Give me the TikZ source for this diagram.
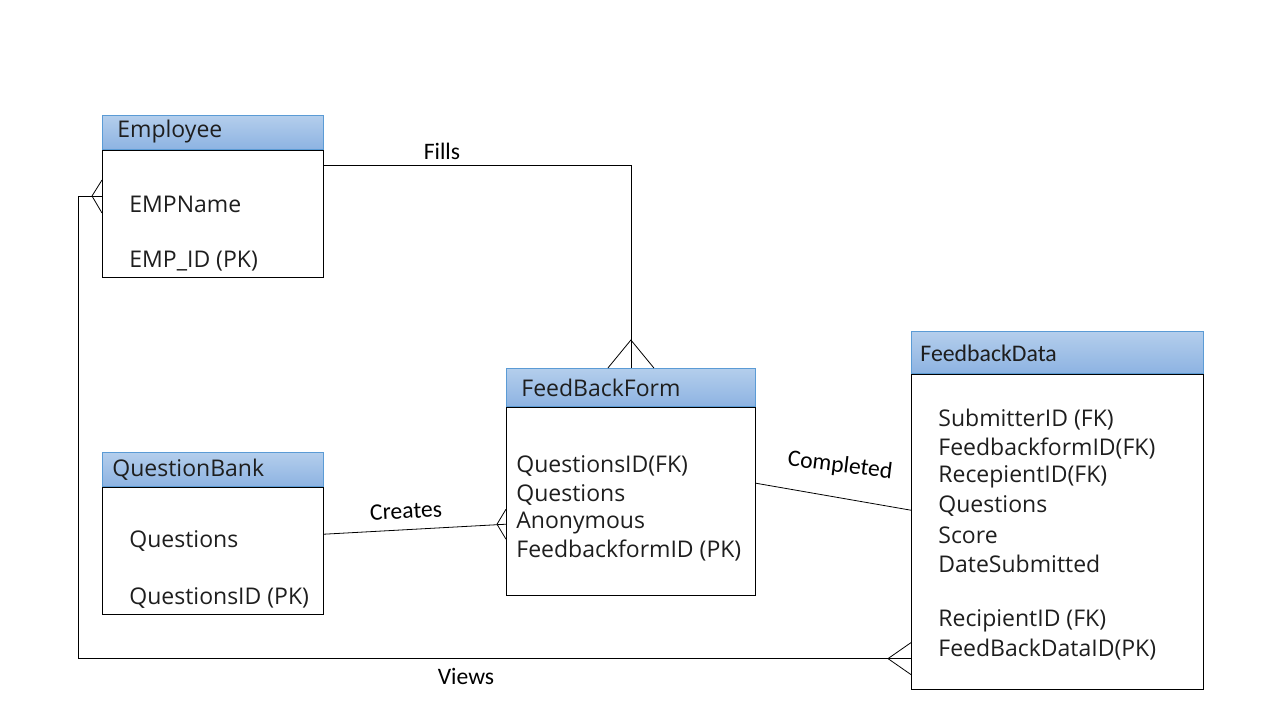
\documentclass[tikz,border=0pt]{standalone}
\usepackage{fontspec}
\setmainfont{Open Sans}
\newfontfamily\calfont{Carlito}
\usetikzlibrary{positioning}
\definecolor{hdrtop}{HTML}{B4CEEC}
\definecolor{hdrbot}{HTML}{8DB3E2}
\definecolor{hdrline}{HTML}{5B9BD5}
\definecolor{txt}{HTML}{1E1E1E}
\tikzset{
  hdr/.style={draw=hdrline, top color=hdrtop, bottom color=hdrbot, anchor=north west, inner sep=0pt},
  tbl/.style={draw, anchor=north west, inner sep=0pt},
  ttl/.style={anchor=west, inner sep=0pt, text=txt, font=\fontsize{11.5}{13}\selectfont},
  attr/.style={anchor=west, inner sep=0pt, text=txt, font=\fontsize{11.5}{13}\selectfont},
  rel/.style={inner sep=0pt, font=\calfont\fontsize{11.8}{13}\selectfont},
}

\begin{document}
\begin{tikzpicture}[x=0.5pt, y=-0.5pt]
\useasboundingbox (0,0) rectangle (1280,720);
% Employee
\node[hdr, minimum width=110.5pt, minimum height=17pt](emph) at (102,115) {};
\node[tbl, minimum width=110.5pt, minimum height=63.5pt](emp) at (emph.south west) {};
\node[ttl](empt) at (117,132) {Employee};
\node[attr](empa1) at (129,204) {EMPName};
\node[attr](empa2) at (129,261) {EMP\_ID (PK)};
%
% QuestionBank
\node[hdr, minimum width=110.5pt, minimum height=17pt](qbh) at (102,452) {};
\node[tbl, minimum width=110.5pt, minimum height=63.5pt](qb) at (qbh.south west) {};
\node[ttl](qbt) at (112,470) {QuestionBank};
\node[attr](qba1) at (129,541) {Questions};
\node[attr](qba2) at (129,598) {QuestionsID (PK)};
%
% FeedBackForm
\node[hdr, minimum width=124.5pt, minimum height=19pt](formh) at (506,368) {};
\node[tbl, minimum width=124.5pt, minimum height=94pt](form) at (formh.south west) {};
\node[ttl](formt) at (521,388) {FeedBackForm};
\node[attr](forma1) at (516,466) {QuestionsID(FK)};
\node[attr](forma2) at (516,495) {Questions};
\node[attr](forma3) at (516,523) {Anonymous};
\node[attr](forma4) at (516,551) {FeedbackformID (PK)};
%
% FeedbackData
\node[hdr, minimum width=146pt, minimum height=21pt](datah) at (911,331) {};
\node[tbl, minimum width=146pt, minimum height=157.5pt](data) at (datah.south west) {};
\node[ttl, font=\calfont\fontsize{11.9}{13}\selectfont](datat) at (920,353) {FeedbackData};
\node[attr](dataa1) at (938,420) {SubmitterID (FK)};
\node[attr](dataa2) at (938,449) {FeedbackformID(FK)};
\node[attr](dataa3) at (938,477) {RecepientID(FK)};
\node[attr](dataa4) at (938,506) {Questions};
\node[attr](dataa5) at (938,535) {Score};
\node[attr](dataa6) at (938,564) {DateSubmitted};
\node[attr](dataa7) at (938,621) {RecipientID (FK)};
\node[attr](dataa8) at (938,650) {FeedBackDataID(PK)};
%
% Fills
\draw([yshift=-8pt]emp.north east) -| (formh.north);
\draw([xshift=-11.5pt]formh.north) -- ([yshift=14pt]formh.north) -- ([xshift=11.5pt]formh.north);
\node[rel](fills) at (442,151) {Fills};
%
% Creates
\draw([yshift=8.25pt]qb.east) -- ([yshift=-11.5pt]form.west);
\draw([yshift=-4pt]form.west) -- ([xshift=-4.5pt, yshift=-11.5pt]form.west) -- ([yshift=-19pt]form.west);
\node[rel, rotate=3](creates) at (406,511) {Creates};
%
% Completed
\draw([yshift=9pt]form.east) -- ([yshift=10.75pt]data.west);
\node[rel, rotate=-7](completed) at (840,466) {Completed};
%
% Views
\coordinate(vs) at ([yshift=15.5pt]data.south west);
\coordinate(vb2) at (78,196);
\draw(vs) -- (vs -| vb2) -- (vb2) -- (emp.west |- vb2);
\draw([yshift=8pt]vs) -- ([xshift=-11.5pt]vs) -- ([yshift=-8pt]vs);
\draw([yshift=8pt]emp.west |- vb2) -- ([xshift=-5pt]emp.west |- vb2) -- ([yshift=-8.5pt]emp.west |- vb2);
\node[rel](views) at (466,676) {Views};
\end{tikzpicture}
\end{document}
